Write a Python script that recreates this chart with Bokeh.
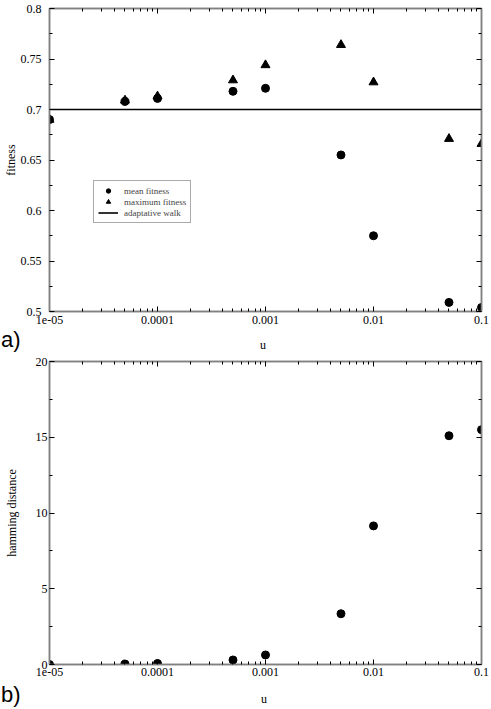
import numpy as np
from bokeh.plotting import figure
from bokeh.layouts import column
from bokeh.models import (LinearAxis, LogAxis, FixedTicker, CustomJSTickFormatter,
                          Legend, LegendItem, Div)
from bokeh.embed import file_html
from bokeh.resources import INLINE

# ---------------- data ----------------
u = [1e-5, 5e-5, 1e-4, 5e-4, 1e-3, 5e-3, 1e-2, 5e-2, 1e-1]
mean_fitness = [0.690, 0.708, 0.711, 0.718, 0.721, 0.655, 0.575, 0.509, 0.504]
max_fitness = [0.690, 0.709, 0.713, 0.729, 0.744, 0.764, 0.727, 0.671, 0.666]
adaptive_walk = [0.7, 0.7]
adaptive_walk_u = [1e-5, 1e-1]
hamming = [0.0, 0.03, 0.07, 0.3, 0.63, 3.35, 9.15, 15.1, 15.5]

x_ticks = [1e-5, 1e-4, 1e-3, 1e-2, 1e-1]
x_tick_labels = ["1e-05", "0.0001", "0.001", "0.01", "0.1"]
fit_ticks = [0.5, 0.55, 0.6, 0.65, 0.7, 0.75, 0.8]
fit_tick_labels = ["0.5", "0.55", "0.6", "0.65", "0.7", "0.75", "0.8"]
ham_ticks = [0, 5, 10, 15, 20]
ham_tick_labels = ["0", "5", "10", "15", "20"]

SERIF = "Liberation Serif"
SANS = "Liberation Sans"
FRAME = "#808080"
W = 491

x_minor = [m * t for t in x_ticks[:-1] for m in range(2, 10)]


def mid_minor(ticks):
    return [(a + b) / 2 for a, b in zip(ticks[:-1], ticks[1:])]


def label_formatter(tvals, tlabels, log=False):
    code = """
    for (let i = 0; i < tvals.length; i++) {
        const a = LOG ? Math.log10(tvals[i]) : tvals[i];
        const b = LOG ? Math.log10(tick) : tick;
        if (Math.abs(a - b) < 1e-6) return tlabels[i];
    }
    return '';
    """.replace("LOG", "true" if log else "false")
    return CustomJSTickFormatter(args=dict(tvals=tvals, tlabels=tlabels), code=code)


def style_axis(ax, ticker, formatter=None, show_labels=True, standoff=4):
    ax.ticker = ticker
    if formatter is not None:
        ax.formatter = formatter
    ax.axis_line_color = FRAME
    ax.axis_line_width = 1.5
    ax.major_tick_line_color = "black"
    ax.minor_tick_line_color = "black"
    ax.major_tick_in = 5
    ax.major_tick_out = 0
    ax.minor_tick_in = 3
    ax.minor_tick_out = 0
    ax.major_label_text_font = SERIF
    ax.major_label_text_color = "black"
    ax.axis_label_text_font = SERIF
    ax.axis_label_text_font_style = "normal"
    ax.axis_label_text_font_size = "12px"
    ax.axis_label_text_color = "black"
    if show_labels:
        ax.major_label_text_font_size = "12px"
        ax.major_label_standoff = standoff
    else:
        ax.major_label_text_font_size = "1px"
        ax.major_label_text_alpha = 0
        ax.major_label_standoff = 0


def make_fig(height, ylo, yhi, yticks, ylabels, ylabel, left, top, bottom,
             ystandoff, xstandoff, ylabel_standoff):
    p = figure(width=W, height=height, x_axis_type="log",
               x_range=(1e-5, 0.1), y_range=(ylo, yhi),
               output_backend="svg", toolbar_location=None,
               min_border_left=left, min_border_right=10,
               min_border_top=top, min_border_bottom=bottom)
    p.xgrid.visible = False
    p.ygrid.visible = False
    p.outline_line_color = FRAME
    p.outline_line_width = 1.5
    p.background_fill_color = "white"
    p.border_fill_color = "white"

    xt = FixedTicker(ticks=x_ticks, minor_ticks=x_minor)
    yt = FixedTicker(ticks=yticks, minor_ticks=mid_minor(yticks))

    style_axis(p.xaxis[0], xt, label_formatter(x_ticks, x_tick_labels, log=True),
               standoff=xstandoff)
    style_axis(p.yaxis[0], yt, label_formatter(yticks, ylabels), standoff=ystandoff)
    p.yaxis[0].axis_label = ylabel
    p.yaxis[0].axis_label_standoff = ylabel_standoff

    top_ax = LogAxis()
    style_axis(top_ax, FixedTicker(ticks=x_ticks, minor_ticks=x_minor), show_labels=False)
    p.add_layout(top_ax, "above")
    right_ax = LinearAxis()
    style_axis(right_ax, FixedTicker(ticks=yticks, minor_ticks=mid_minor(yticks)), show_labels=False)
    p.add_layout(right_ax, "right")
    return p


def caption_strip(height, tag, tag_top, u_left, u_top):
    html = (
        f'<div style="position:relative;width:{W}px;height:{height}px;margin:0;padding:0;overflow:visible;">'
        f'<span style="position:absolute;left:1px;top:{tag_top}px;white-space:nowrap;'
        f"font-family:'{SANS}';font-size:22px;line-height:22px;color:black;\">{tag}</span>"
        f'<span style="position:absolute;left:{u_left}px;top:{u_top}px;transform:translateX(-50%);'
        f"white-space:nowrap;font-family:'{SERIF}';font-size:12px;line-height:12px;color:black;\">u</span>"
        '</div>'
    )
    return Div(text=html, width=W, height=height, margin=(0, 0, 0, 0))


# ---------------- panel a ----------------
p1 = make_fig(330, 0.5, 0.8, fit_ticks, fit_tick_labels, "fitness",
              left=45, top=8, bottom=19, ystandoff=8, xstandoff=4, ylabel_standoff=0)
r_line = p1.line(adaptive_walk_u, adaptive_walk, line_color="black", line_width=1.6)
r_max = p1.scatter(u, max_fitness, marker="triangle", size=9,
                   fill_color="black", line_color="black")
r_mean = p1.scatter(u, mean_fitness, marker="circle", size=8,
                    fill_color="black", line_color="black")

legend = Legend(items=[LegendItem(label="mean fitness", renderers=[r_mean]),
                       LegendItem(label="maximum fitness", renderers=[r_max]),
                       LegendItem(label="adaptative walk", renderers=[r_line])],
                location=(44, 88))
legend.border_line_color = "#555555"
legend.border_line_width = 1
legend.background_fill_color = "white"
legend.background_fill_alpha = 1
legend.label_text_font = SERIF
legend.label_text_font_size = "9px"
legend.label_height = 11
legend.glyph_height = 11
legend.glyph_width = 20
legend.spacing = 0
legend.padding = 4
legend.margin = 0
legend.label_standoff = 6
p1.add_layout(legend)

strip_a = caption_strip(24, "a)", -1, 263, 9)

# ---------------- panel b ----------------
p2 = make_fig(330, 0, 20, ham_ticks, ham_tick_labels, "hamming distance",
              left=47, top=7, bottom=20, ystandoff=2, xstandoff=3, ylabel_standoff=14)
p2.scatter(u, hamming, marker="circle", size=8, fill_color="black", line_color="black")

strip_b = caption_strip(25, "b)", 0, 264, 9)

layout = column(p1, strip_a, p2, strip_b, spacing=0)
open("out.html", "w").write(file_html(layout, INLINE))
